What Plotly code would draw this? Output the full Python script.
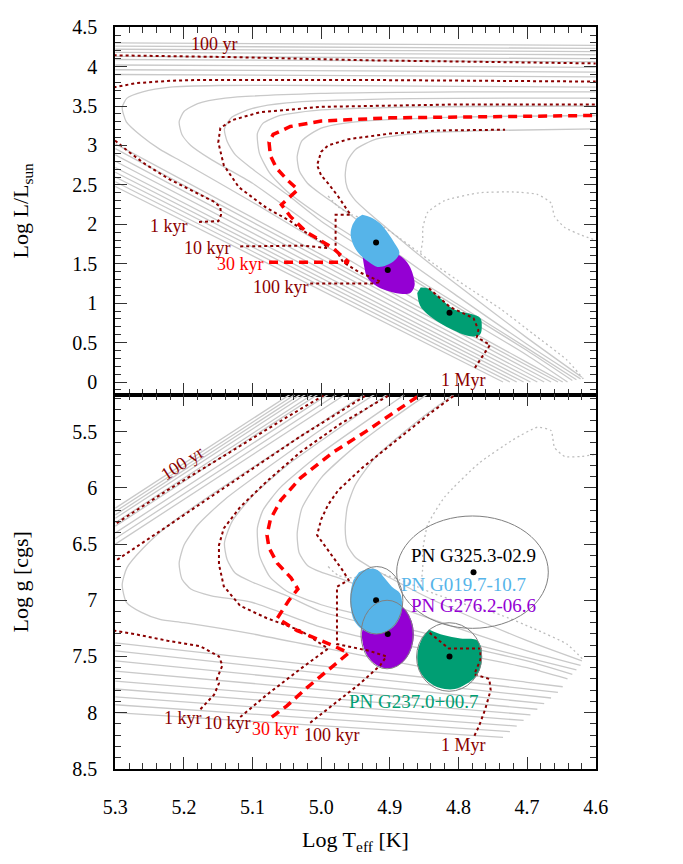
import plotly.graph_objects as go

# ---------------- data ----------------
# massive tracks: knee lies outside the frame (hotter than log T = 5.3)
H_PLAT_L_HOT = [4.30, 4.26, 4.22, 4.18, 4.13, 4.09, 4.02, 3.96, 3.90]   # log L at T=5.3
H_PLAT_L_COOL = [4.27, 4.23, 4.19, 4.15, 4.10, 4.06, 3.99, 3.93, 3.87]  # log L at T=4.6
H_COOL_L_EDGE = [2.48, 2.54, 2.60, 2.66, 2.72, 2.80, 2.88, 2.96, 3.02]  # log L at T=5.3
H_COOL_T_END = [4.735, 4.725, 4.715, 4.705, 4.695, 4.685, 4.675, 4.665, 4.655]
H_PLAT_G_HOT = [6.18, 6.21, 6.24, 6.27, 6.31, 6.34, 6.40, 6.45, 6.50]   # log g at T=5.3
H_PLAT_G_COOL = [4.59, 4.62, 4.65, 4.68, 4.72, 4.75, 4.81, 4.86, 4.91]  # log g at T=4.9
H_COOL_G_EDGE = [8.00, 7.93, 7.86, 7.79, 7.72, 7.63, 7.54, 7.45, 7.38]
H_COOL_G_END = [8.22, 8.17, 8.12, 8.07, 8.02, 7.97, 7.92, 7.87, 7.82]

# tracks with a visible knee
G1_T = [4.60, 4.80, 5.00, 5.15, 5.22, 5.26, 5.283, 5.290, 5.284, 5.262, 5.235, 5.2, 5.1, 5.0, 4.9, 4.8, 4.7, 4.648]
G1_L = [3.74, 3.75, 3.76, 3.76, 3.74, 3.68, 3.60, 3.48, 3.30, 3.12, 2.95, 2.78, 2.28, 1.76, 1.24, 0.73, 0.25, 0.0]
G1_TB = [4.90, 4.95, 5.00, 5.15, 5.22, 5.26, 5.283, 5.290, 5.284, 5.262, 5.235, 5.2, 5.1, 5.0, 4.9, 4.8, 4.7, 4.648]
G1_G = [5.025, 5.22, 5.42, 6.02, 6.32, 6.54, 6.71, 6.86, 7.016, 7.108, 7.17, 7.20, 7.30, 7.42, 7.54, 7.65, 7.73, 7.77]

G2_T = [4.60, 4.8, 5.0, 5.14, 5.18, 5.2, 5.207, 5.203, 5.19, 5.16, 5.1, 5.0, 4.9, 4.8, 4.7, 4.641]
G2_L = [3.68, 3.68, 3.66, 3.60, 3.53, 3.43, 3.30, 3.14, 3.00, 2.82, 2.52, 1.90, 1.36, 0.86, 0.34, 0.0]
G2_TB = [4.9, 5.0, 5.14, 5.18, 5.2, 5.207, 5.203, 5.19, 5.16, 5.1, 5.0, 4.9, 4.8, 4.7, 4.641]
G2_G = [5.08, 5.48, 6.10, 6.33, 6.51, 6.67, 6.81, 6.90, 6.96, 7.02, 7.24, 7.38, 7.48, 7.60, 7.70]

G3_T = [4.60, 4.9, 5.05, 5.10, 5.13, 5.141, 5.137, 5.125, 5.10, 5.05, 5.0, 4.9, 4.8, 4.7, 4.634]
G3_L = [3.60, 3.59, 3.54, 3.47, 3.36, 3.21, 3.05, 2.88, 2.70, 2.38, 2.04, 1.48, 0.94, 0.40, 0.02]
G3_TB = [4.9, 5.0, 5.05, 5.10, 5.13, 5.141, 5.137, 5.125, 5.10, 5.05, 5.0, 4.9, 4.8, 4.7, 4.634]
G3_G = [5.15, 5.58, 5.80, 6.07, 6.30, 6.49, 6.64, 6.76, 6.84, 6.96, 7.10, 7.26, 7.40, 7.54, 7.66]

G4_T = [4.60, 4.85, 5.0, 5.06, 5.085, 5.093, 5.09, 5.075, 5.05, 5.0, 4.95, 4.9, 4.8, 4.7, 4.628]
G4_L = [3.50, 3.49, 3.45, 3.38, 3.28, 3.15, 2.90, 2.65, 2.42, 2.10, 1.82, 1.52, 0.98, 0.43, 0.03]
G4_TB = [4.85, 4.9, 5.0, 5.06, 5.085, 5.093, 5.09, 5.075, 5.05, 5.0, 4.95, 4.9, 4.8, 4.7, 4.628]
G4_G = [5.05, 5.26, 5.69, 6.00, 6.20, 6.36, 6.60, 6.79, 6.92, 7.04, 7.12, 7.22, 7.36, 7.51, 7.62]

G5_T = [4.60, 4.8, 4.95, 5.0, 5.028, 5.035, 5.032, 5.02, 5.0, 4.98, 4.95, 4.9, 4.8, 4.7, 4.622]
G5_L = [3.38, 3.36, 3.30, 3.22, 3.06, 2.86, 2.68, 2.52, 2.38, 2.26, 2.07, 1.70, 1.08, 0.48, 0.04]
G5_TB = [4.8, 4.85, 4.9, 4.95, 5.0, 5.028, 5.035, 5.032, 5.02, 5.0, 4.98, 4.95, 4.9, 4.8, 4.7, 4.622]
G5_G = [4.97, 5.185, 5.40, 5.63, 5.91, 6.18, 6.41, 6.58, 6.69, 6.75, 6.79, 6.86, 7.03, 7.25, 7.45, 7.58]

G6_T = [4.60, 4.75, 4.85, 4.92, 4.95, 4.962, 4.965, 4.962, 4.95, 4.93, 4.9, 4.85, 4.8, 4.7, 4.62]
G6_L = [3.21, 3.19, 3.16, 3.08, 2.95, 2.80, 2.62, 2.46, 2.30, 2.14, 1.92, 1.56, 1.22, 0.56, 0.06]
G6_TB = [4.75, 4.8, 4.85, 4.92, 4.95, 4.962, 4.965, 4.962, 4.95, 4.93, 4.9, 4.85, 4.8, 4.7, 4.62]
G6_G = [4.93, 5.14, 5.36, 5.72, 5.97, 6.17, 6.36, 6.51, 6.62, 6.70, 6.80, 6.96, 7.10, 7.36, 7.54]

# lowest-mass track (dotted grey): main part and loop
D_T = [4.99, 4.975, 4.955, 4.935, 4.91, 4.885, 4.86, 4.836, 4.788, 4.739, 4.691, 4.642, 4.618]
D_L = [2.36, 2.22, 2.12, 2.06, 1.97, 1.82, 1.66, 1.50, 1.21, 0.93, 0.61, 0.28, 0.04]
D_G = [6.70, 6.78, 6.80, 6.78, 6.77, 6.82, 6.88, 6.94, 7.04, 7.13, 7.25, 7.39, 7.53]
DL_T = [4.855, 4.852, 4.852, 4.845, 4.82, 4.77, 4.72, 4.685, 4.665, 4.66, 4.645, 4.62, 4.6]
DL_L = [1.64, 1.80, 1.95, 2.15, 2.30, 2.40, 2.41, 2.38, 2.27, 2.10, 1.96, 1.86, 1.80]
DL_G = [6.88, 6.71, 6.56, 6.33, 6.08, 5.78, 5.57, 5.46, 5.49, 5.64, 5.72, 5.72, 5.70]

# isochrones
I100Y_T = [5.32, 5.127, 4.933, 4.739, 4.6]
I100Y_L = [4.145, 4.12, 4.08, 4.06, 4.04]
I100Y_TB = [5.32, 5.224, 5.127, 5.05, 5.0, 4.97]
I100Y_G = [6.40, 6.02, 5.66, 5.37, 5.19, 5.08]

I1K_T = [5.178, 5.150, 5.146, 5.147, 5.157, 5.176, 5.221, 5.256, 5.282, 5.3, 5.32, None, 5.32, 5.3, 5.27, 5.22, 5.18, 4.93, 4.6]
I1K_L = [2.03, 2.04, 2.12, 2.22, 2.29, 2.37, 2.57, 2.76, 2.93, 3.06, 3.16, None, 3.72, 3.74, 3.79, 3.82, 3.83, 3.83, 3.81]
I1K_TB = [5.176, 5.156, 5.149, 5.152, 5.144, 5.149, 5.176, 5.224, 5.273, 5.32, None, 5.32, 5.3, 5.224, 5.127, 5.03, 4.972, 4.92]
I1K_G = [7.97, 7.84, 7.74, 7.70, 7.58, 7.50, 7.41, 7.36, 7.30, 7.25, None, 6.72, 6.65, 6.34, 5.94, 5.54, 5.32, 5.12]

I10K_T = [5.118, 5.03, 4.99, 5.0, 5.023, 5.045, 5.08, 5.12, 5.142, 5.150, 5.147, 5.13, 5.09, 5.0, 4.8, 4.6]
I10K_L = [1.72, 1.73, 1.70, 1.78, 1.90, 2.04, 2.21, 2.47, 2.75, 3.04, 3.22, 3.32, 3.42, 3.49, 3.52, 3.52]
I10K_TB = [5.118, 5.079, 5.03, 4.99, 5.03, 5.079, 5.118, 5.142, 5.149, 5.149, 5.142, 5.118, 5.079, 5.03, 4.972, 4.9, 4.88]
I10K_G = [8.04, 7.84, 7.61, 7.43, 7.27, 7.16, 7.05, 6.875, 6.68, 6.51, 6.36, 6.17, 5.94, 5.68, 5.43, 5.17, 5.10]

I30K_T = [5.076, 4.96, 4.983, 5.005, 5.021, 5.045, 5.058, 5.034, 5.049, 5.065, 5.074, 5.076, 5.07, 5.045, 5.0, 4.9, 4.6]
I30K_L = [1.52, 1.52, 1.70, 1.82, 1.90, 2.10, 2.25, 2.44, 2.56, 2.71, 2.87, 3.04, 3.14, 3.24, 3.31, 3.35, 3.38]
I30K_TB = [5.072, 5.05, 5.021, 4.982, 4.96, 4.982, 5.006, 5.035, 5.064, 5.047, 5.034, 5.044, 5.064, 5.076, 5.079,
           5.074, 5.059, 5.03, 4.982, 4.933, 4.87, 4.85]
I30K_G = [8.04, 7.94, 7.78, 7.58, 7.47, 7.405, 7.34, 7.27, 7.16, 7.0, 6.90, 6.80, 6.67, 6.535, 6.42,
          6.28, 6.11, 5.91, 5.68, 5.49, 5.23, 5.15]

I100K_T = [5.016, 4.924, 4.913, 4.946, 4.968, 4.975, 4.979, 4.979, 4.957, 4.965, 4.975, 4.99, 5.0, 5.006, 5.0,
           4.99, 4.96, 4.9, 4.83, 4.732]
I100K_L = [1.25, 1.25, 1.27, 1.40, 1.52, 1.62, 1.68, 2.12, 2.12, 2.22, 2.35, 2.52, 2.62, 2.75, 2.92,
           3.0, 3.08, 3.15, 3.19, 3.20]
I100K_TB = [5.016, 4.982, 4.943, 4.914, 4.905, 4.93, 4.955, 4.977, 4.977, 4.96, 4.968, 4.98, 4.995, 5.006, 5.0,
            4.99, 4.975, 4.94, 4.885, 4.84, 4.80]
I100K_G = [8.09, 7.93, 7.74, 7.58, 7.50, 7.45, 7.42, 7.39, 6.88, 6.82, 6.74, 6.64, 6.52, 6.42, 6.28,
           6.15, 6.02, 5.82, 5.55, 5.33, 5.15]

I1M_T = [4.843, 4.812, 4.778, 4.771, 4.773, 4.754, 4.764, 4.776]
I1M_L = [1.19, 0.95, 0.81, 0.66, 0.57, 0.47, 0.34, 0.18]
I1M_TB = [4.842, 4.814, 4.768, 4.768, 4.777, 4.772, 4.755, 4.753, 4.761, 4.770, 4.777]
I1M_G = [7.29, 7.43, 7.43, 7.53, 7.66, 7.67, 7.70, 7.80, 7.97, 8.12, 8.21]

# central-star probability regions
CYAN_T = [4.94, 4.928, 4.914, 4.902, 4.893, 4.886, 4.892, 4.905, 4.918, 4.93, 4.942, 4.952, 4.957, 4.955, 4.948]
CYAN_L = [2.12, 2.09, 2.01, 1.88, 1.76, 1.64, 1.55, 1.48, 1.46, 1.52, 1.60, 1.72, 1.86, 1.98, 2.08]
PURP_T = [4.940, 4.937, 4.933, 4.92, 4.905, 4.885, 4.870, 4.864, 4.865, 4.87, 4.877, 4.89, 4.905, 4.92, 4.932]
PURP_L = [1.62, 1.45, 1.33, 1.22, 1.16, 1.12, 1.13, 1.22, 1.32, 1.45, 1.54, 1.63, 1.68, 1.69, 1.67]
GREEN_T = [4.860, 4.856, 4.845, 4.827, 4.808, 4.788, 4.775, 4.768, 4.766, 4.768, 4.78, 4.797, 4.812, 4.822, 4.835, 4.845, 4.855]
GREEN_L = [1.13, 0.97, 0.86, 0.75, 0.66, 0.59, 0.58, 0.61, 0.70, 0.81, 0.86, 0.89, 0.95, 1.03, 1.12, 1.19, 1.20]

CYAN_TB = [4.945, 4.93, 4.918, 4.908, 4.897, 4.885, 4.882, 4.885, 4.895, 4.91, 4.925, 4.94, 4.952, 4.957, 4.957, 4.953]
CYAN_G = [6.75, 6.72, 6.73, 6.80, 6.88, 6.94, 7.05, 7.15, 7.24, 7.29, 7.30, 7.26, 7.18, 7.06, 6.92, 6.82]
PURP_TB = [4.941, 4.938, 4.930, 4.9175, 4.903, 4.8885, 4.876, 4.868, 4.865, 4.868, 4.876, 4.8885, 4.903, 4.9175, 4.930, 4.938]
PURP_G = [7.305, 7.42, 7.517, 7.582, 7.605, 7.582, 7.517, 7.42, 7.305, 7.19, 7.093, 7.028, 7.005, 7.028, 7.093, 7.19]
GREEN_TB = [4.843, 4.822, 4.797, 4.775, 4.768, 4.766, 4.768, 4.775, 4.79, 4.805, 4.82, 4.835, 4.848, 4.857, 4.86, 4.858, 4.852]
GREEN_G = [7.26, 7.31, 7.34, 7.35, 7.40, 7.50, 7.60, 7.68, 7.75, 7.79, 7.79, 7.76, 7.70, 7.62, 7.52, 7.42, 7.33]

# uncertainty ellipses (bottom panel): T range and log g range
ELL_T0 = [4.957, 4.942, 4.861, 4.890]
ELL_T1 = [4.881, 4.866, 4.766, 4.669]
ELL_G0 = [6.70, 7.00, 7.20, 6.25]
ELL_G1 = [7.30, 7.61, 7.81, 7.25]

# best-fit positions
DOT_T = [4.920, 4.903, 4.813]
DOT_L = [1.77, 1.42, 0.88]
DOT_TB = [4.920, 4.903, 4.813, 4.778]
DOT_G = [7.00, 7.30, 7.50, 6.75]

# labels
AGE_TXT = ["100 yr", "1 kyr", "10 kyr", "30 kyr", "100 kyr", "1 Myr"]
AGE_T_TOP = [5.156, 5.222, 5.166, 5.118, 5.059, 4.793]
AGE_L_TOP = [4.29, 1.98, 1.70, 1.50, 1.21, 0.02]
AGE_T_BOT = [5.202, 5.202, 5.136, 5.066, 4.984, 4.793]
AGE_G_BOT = [5.78, 8.05, 8.09, 8.15, 8.20, 8.29]
PN_TXT = ["PN G325.3-02.9", "PN G019.7-10.7", "PN G276.2-06.6", "PN G237.0+00.7"]
PN_T = [4.778, 4.793, 4.778, 4.865]
PN_G = [6.606, 6.86, 7.05, 7.90]

# ---------------- styling ----------------
FONT = "Liberation Serif"
GRAY = "#c9c9c9"
DRED = "#8b0000"
RED = "#ff0000"
CYAN = "#56b4e9"
PURPLE = "#9400d3"
GREEN = "#009e73"
PN_COL = ["black", CYAN, PURPLE, GREEN]
AGE_COL = [DRED, DRED, DRED, RED, DRED, DRED]

fig = go.Figure()


def add(x, y, row, **kw):
    xa, ya = ("x", "y") if row == 1 else ("x2", "y2")
    fig.add_trace(go.Scatter(x=x, y=y, xaxis=xa, yaxis=ya, hoverinfo="skip",
                             showlegend=False, **kw))


track_line = dict(color=GRAY, width=1.3)
spline_line = dict(color=GRAY, width=1.3, shape="spline", smoothing=0.6)

# massive tracks
for i in range(len(H_PLAT_L_HOT)):
    add([4.6, 5.3, None, 5.3, H_COOL_T_END[i]],
        [H_PLAT_L_COOL[i], H_PLAT_L_HOT[i], None, H_COOL_L_EDGE[i], 0.0],
        1, mode="lines", line=track_line)
    add([5.3, 4.9, None, 5.3, H_COOL_T_END[i]],
        [H_PLAT_G_HOT[i], H_PLAT_G_COOL[i], None, H_COOL_G_EDGE[i], H_COOL_G_END[i]],
        2, mode="lines", line=track_line)

for tt, ll, tb, gg in [(G1_T, G1_L, G1_TB, G1_G), (G2_T, G2_L, G2_TB, G2_G),
                       (G3_T, G3_L, G3_TB, G3_G), (G4_T, G4_L, G4_TB, G4_G),
                       (G5_T, G5_L, G5_TB, G5_G), (G6_T, G6_L, G6_TB, G6_G)]:
    add(tt, ll, 1, mode="lines", line=spline_line)
    add(tb, gg, 2, mode="lines", line=spline_line)

dot_gray = dict(color="#bdbdbd", width=1.3, dash="2px,3px", shape="spline", smoothing=0.5)
add(D_T, D_L, 1, mode="lines", line=dot_gray)
add(D_T, D_G, 2, mode="lines", line=dot_gray)
add(DL_T, DL_L, 1, mode="lines", line=dot_gray)
add(DL_T, DL_G, 2, mode="lines", line=dot_gray)

# blobs
add(PURP_T, PURP_L, 1, mode="lines", fill="toself", fillcolor=PURPLE,
    line=dict(width=0, shape="spline", color=PURPLE))
add(CYAN_T, CYAN_L, 1, mode="lines", fill="toself", fillcolor=CYAN,
    line=dict(width=0, shape="spline", color=CYAN))
add(GREEN_T, GREEN_L, 1, mode="lines", fill="toself", fillcolor=GREEN,
    line=dict(width=0, shape="spline", color=GREEN))
add(PURP_TB, PURP_G, 2, mode="lines", fill="toself", fillcolor=PURPLE,
    line=dict(width=0, shape="spline", color=PURPLE))
add(CYAN_TB, CYAN_G, 2, mode="lines", fill="toself", fillcolor=CYAN,
    line=dict(width=0, shape="spline", color=CYAN))
add(GREEN_TB, GREEN_G, 2, mode="lines", fill="toself", fillcolor=GREEN,
    line=dict(width=0, shape="spline", color=GREEN))

# isochrones
iso_dot = dict(color=DRED, width=2, dash="3px,3px")
iso_red = dict(color=RED, width=3.5, dash="9px,6px")
for tt, ll, tb, gg, st in [(I100Y_T, I100Y_L, I100Y_TB, I100Y_G, iso_dot),
                           (I1K_T, I1K_L, I1K_TB, I1K_G, iso_dot),
                           (I10K_T, I10K_L, I10K_TB, I10K_G, iso_dot),
                           (I100K_T, I100K_L, I100K_TB, I100K_G, iso_dot),
                           (I1M_T, I1M_L, I1M_TB, I1M_G, iso_dot),
                           (I30K_T, I30K_L, I30K_TB, I30K_G, iso_red)]:
    add(tt, ll, 1, mode="lines", line=st, connectgaps=False)
    add(tb, gg, 2, mode="lines", line=st, connectgaps=False)

# dots
add(DOT_T, DOT_L, 1, mode="markers", marker=dict(color="black", size=6))
add(DOT_TB, DOT_G, 2, mode="markers", marker=dict(color="black", size=6))

# ellipses
shapes = []
for i in range(len(ELL_T0)):
    shapes.append(dict(type="circle", xref="x2", yref="y2", x0=ELL_T0[i], x1=ELL_T1[i],
                       y0=ELL_G0[i], y1=ELL_G1[i], line=dict(color="#808080", width=1)))

annotations = []
for i, txt in enumerate(AGE_TXT):
    annotations.append(dict(x=AGE_T_TOP[i], y=AGE_L_TOP[i], xref="x", yref="y", text=txt,
                            showarrow=False, font=dict(family=FONT, size=18, color=AGE_COL[i])))
    annotations.append(dict(x=AGE_T_BOT[i], y=AGE_G_BOT[i], xref="x2", yref="y2", text=txt,
                            showarrow=False, textangle=-33 if i == 0 else 0,
                            font=dict(family=FONT, size=18, color=AGE_COL[i])))
for i, txt in enumerate(PN_TXT):
    annotations.append(dict(x=PN_T[i], y=PN_G[i], xref="x2", yref="y2", text=txt,
                            showarrow=False, font=dict(family=FONT, size=19, color=PN_COL[i])))

axis_common = dict(showline=True, linecolor="black", linewidth=1.6, mirror="allticks",
                   ticks="inside", ticklen=12, tickwidth=1.3, tickcolor="#333",
                   showgrid=False, zeroline=False, ticklabeloverflow="allow",
                   tickfont=dict(family=FONT, size=20, color="black"))

# the page body adds an 8 px offset, so the figure is drawn 16 px smaller
fig.update_layout(
    width=667, height=848,
    margin=dict(l=107, r=79, t=8, b=65),
    plot_bgcolor="white", paper_bgcolor="white",
    font=dict(family=FONT, size=20, color="black"),
    shapes=shapes, annotations=annotations,
    xaxis=dict(domain=[0, 1], anchor="y", range=[5.3005, 4.5995], dtick=0.1, tick0=5.3,
               showticklabels=False,
               minor=dict(dtick=0.02, ticklen=6, tickcolor="#333", ticks="inside"),
               **axis_common),
    yaxis=dict(domain=[0.5045, 1], anchor="x", range=[-0.16, 4.502], dtick=0.5, tick0=0,
               minor=dict(dtick=0.1, ticklen=6, tickcolor="#333", ticks="inside"),
               ticklabelstandoff=12,
               title=dict(text="Log L/L<sub>sun</sub>", standoff=40,
                          font=dict(family=FONT, size=22)),
               **axis_common),
    xaxis2=dict(domain=[0, 1], anchor="y2", range=[5.3005, 4.5995], dtick=0.1, tick0=5.3,
                tickformat=".1f", matches="x", ticklabelstandoff=19,
                minor=dict(dtick=0.02, ticklen=6, tickcolor="#333", ticks="inside"),
                title=dict(text="Log T<sub>eff</sub> [K]", standoff=15,
                           font=dict(family=FONT, size=22)),
                **axis_common),
    yaxis2=dict(domain=[0, 0.5045], anchor="x2", range=[8.502, 5.17], dtick=0.5, tick0=5.5,
                minor=dict(dtick=0.1, ticklen=6, tickcolor="#333", ticks="inside"),
                ticklabelstandoff=12,
                title=dict(text="Log g [cgs]", standoff=40, font=dict(family=FONT, size=22)),
                **axis_common),
)

fig.write_html("out.html")
